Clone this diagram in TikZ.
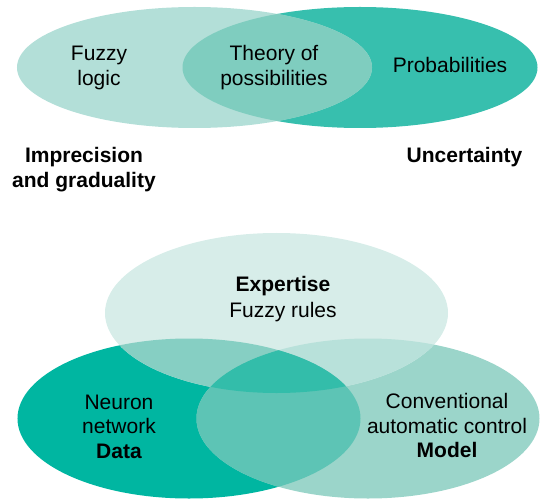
\documentclass[tikz,border=0pt]{standalone}
\usepackage{fontspec}
\setmainfont{Liberation Sans}
\definecolor{tvL}{HTML}{B3DFD8}
\definecolor{tvR}{HTML}{37BFAE}
\definecolor{tvLR}{HTML}{7FCDBF}
\definecolor{bvT}{HTML}{D7EDE9}
\definecolor{bvL}{HTML}{00B6A1}
\definecolor{bvR}{HTML}{9BD5CA}
\definecolor{bvTL}{HTML}{86CFC3}
\definecolor{bvTR}{HTML}{B8E1DA}
\definecolor{bvLR}{HTML}{5DC4B5}
\definecolor{bvTLR}{HTML}{33BDAA}
\tikzset{
  lbl/.style={align=center, inner sep=0pt, anchor=base, text=black,
    font=\fontsize{21bp}{24.5bp}\selectfont},
  blbl/.style={lbl, font=\fontsize{21bp}{24.5bp}\selectfont\bfseries},
  tvell/.style={x radius=177.5bp, y radius=60.5bp},
  bvell/.style={x radius=171.5bp, y radius=80bp}
}
\begin{document}
\begin{tikzpicture}[x=1bp, y=-1bp]
\useasboundingbox (0,0) rectangle (544,500);
% top Venn
\fill[tvR] (360,67.5) ellipse [tvell];
\fill[tvL] (194.5,67.5) ellipse [tvell];
\begin{scope}
  \clip (360,67.5) ellipse [tvell];
  \fill[tvLR] (194.5,67.5) ellipse [tvell];
\end{scope}
% bottom Venn
\fill[bvL] (189,418.5) ellipse [bvell];
\fill[bvR] (368,418.5) ellipse [bvell];
\fill[bvT] (276.5,313) ellipse [bvell];
\begin{scope}
  \clip (276.5,313) ellipse [bvell];
  \fill[bvTL] (189,418.5) ellipse [bvell];
  \fill[bvTR] (368,418.5) ellipse [bvell];
\end{scope}
\begin{scope}
  \clip (189,418.5) ellipse [bvell];
  \fill[bvLR] (368,418.5) ellipse [bvell];
  \clip (368,418.5) ellipse [bvell];
  \fill[bvTLR] (276.5,313) ellipse [bvell];
\end{scope}
% labels (anchor = baseline of last line)
\node[lbl] (fuzzy) at (99,85.5) {Fuzzy\\logic};
\node[lbl] (theory) at (274,85.5) {Theory of\\possibilities};
\node[lbl] (prob) at (450,73) {Probabilities};
\node[blbl] (impr) at (84,187.5) {Imprecision\\and graduality};
\node[blbl] (unc) at (464.5,163) {Uncertainty};
\node[lbl, font=\fontsize{21bp}{26bp}\selectfont] (exp) at (283,317) {\textbf{Expertise}\\Fuzzy rules};
\node[lbl] (neuron) at (119,458) {Neuron\\network\\\textbf{Data}};
\node[lbl] (conv) at (447,457.5) {Conventional\\automatic control\\\textbf{Model}};
\end{tikzpicture}
\end{document}
